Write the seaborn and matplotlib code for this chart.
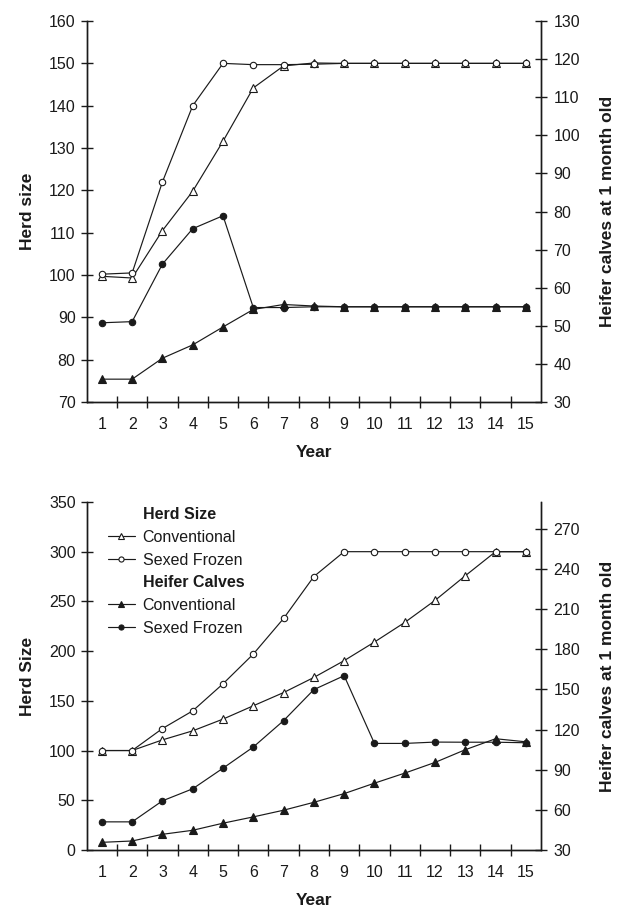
import matplotlib
matplotlib.use("Agg")
import matplotlib.pyplot as plt
from matplotlib.lines import Line2D
import seaborn as sns

# ── Configuração geral ────────────────────────────────────────────────────────
sns.set_theme(style="white")
plt.rcParams["font.family"] = ["Liberation Sans", "DejaVu Sans"]
INK = "#1a1a1a"
FS = 11.5
FS_LAB = 12.5

years = list(range(1, 16))

# ── Dados: painel superior ────────────────────────────────────────────────────
top_herd_conv = [99.7, 99.3, 110.5, 119.8, 131.6, 144.2, 149.4, 150.1, 150, 150, 150, 150, 150, 150, 150]
top_herd_sexed = [100.2, 100.5, 122.0, 140.0, 150.0, 149.7, 149.7, 149.8, 150, 150, 150, 150, 150, 150, 150]
top_calf_conv = [36.0, 36.0, 41.5, 45.0, 49.7, 54.3, 55.6, 55.2, 55, 55, 55, 55, 55, 55, 55]
top_calf_sexed = [50.8, 51.1, 66.2, 75.5, 78.9, 54.8, 54.8, 55.0, 55, 55, 55, 55, 55, 55, 55]

# ── Dados: painel inferior ────────────────────────────────────────────────────
bot_herd_conv = [100, 100, 110.7, 119.8, 131.6, 145.0, 158.3, 173.5, 190.4, 209.1, 228.8, 251.0, 275.8, 300, 300]
bot_herd_sexed = [100, 100, 122.1, 139.9, 167.1, 197.0, 232.8, 275.0, 300, 300, 300, 300, 300, 300, 300]
bot_calf_conv = [35.7, 36.7, 41.7, 44.7, 50.0, 54.7, 59.7, 65.6, 72.1, 79.9, 87.4, 95.4, 104.9, 113.1, 110.8]
bot_calf_sexed = [51.0, 51.0, 66.7, 75.7, 91.1, 106.9, 126.6, 149.8, 160.2, 109.6, 109.6, 110.6, 110.5, 110.5, 110.1]

left_ticks_top = list(range(70, 161, 10))
right_ticks_top = list(range(30, 131, 10))
left_ticks_bot = list(range(0, 351, 50))
right_ticks_bot = list(range(30, 271, 30))

STYLE = {
    "herd_conv": dict(marker="^", markerfacecolor="white", markersize=5.2),
    "herd_sexed": dict(marker="o", markerfacecolor="white", markersize=4.6),
    "calf_conv": dict(marker="^", markerfacecolor=INK, markersize=5.2),
    "calf_sexed": dict(marker="o", markerfacecolor=INK, markersize=4.6),
}


def draw_series(ax, y, key):
    sns.lineplot(x=years, y=y, ax=ax, color=INK, linewidth=0.85,
                 markeredgecolor=INK, markeredgewidth=0.8, **STYLE[key])


def style_axes(ax, ax2, lticks, rticks, rlim, ylabel):
    ax.set_xlim(0.5, 15.5)
    ax.set_ylim(lticks[0], lticks[-1])
    ax2.set_ylim(*rlim)
    ax.set_xticks(years)
    ax.set_xticks([y + 0.5 for y in years[:-1]], minor=True)
    ax.tick_params(axis="x", which="major", length=0, pad=11, labelsize=FS, colors=INK)
    ax.tick_params(axis="x", which="minor", direction="inout", length=8, width=1, color=INK, bottom=True)
    ax.set_yticks(lticks)
    ax2.set_yticks(rticks)
    ax.tick_params(axis="y", direction="inout", length=8, width=1, pad=4, labelsize=FS, colors=INK, left=True)
    ax2.tick_params(axis="y", direction="inout", length=8, width=1, pad=5, labelsize=FS, colors=INK, right=True)
    for a in (ax, ax2):
        a.spines["top"].set_visible(False)
        for s in ("left", "right", "bottom"):
            a.spines[s].set_color(INK)
            a.spines[s].set_linewidth(1)
        a.grid(False)
    ax.set_xlabel("Year", fontsize=FS_LAB, fontweight="bold", color=INK, labelpad=9)
    ax.set_ylabel(ylabel, fontsize=FS_LAB, fontweight="bold", color=INK, labelpad=10)
    ax2.set_ylabel("Heifer calves at 1 month old", fontsize=FS_LAB, fontweight="bold",
                   color=INK, labelpad=14)


fig = plt.figure(figsize=(6.22, 9.11), dpi=100)

# --- Painel superior ---------------------------------------------------------
ax_t = fig.add_axes([0.1394, 0.5587, 0.7304, 0.4182])
ax_t2 = ax_t.twinx()
draw_series(ax_t, top_herd_conv, "herd_conv")
draw_series(ax_t, top_herd_sexed, "herd_sexed")
draw_series(ax_t2, top_calf_conv, "calf_conv")
draw_series(ax_t2, top_calf_sexed, "calf_sexed")
style_axes(ax_t, ax_t2, left_ticks_top, right_ticks_top, (30, 130), "Herd size")

# --- Painel inferior ---------------------------------------------------------
ax_b = fig.add_axes([0.1394, 0.0670, 0.7304, 0.3820])
ax_b2 = ax_b.twinx()
draw_series(ax_b, bot_herd_conv, "herd_conv")
draw_series(ax_b, bot_herd_sexed, "herd_sexed")
draw_series(ax_b2, bot_calf_conv, "calf_conv")
draw_series(ax_b2, bot_calf_sexed, "calf_sexed")
style_axes(ax_b, ax_b2, left_ticks_bot, right_ticks_bot, (30, 290), "Herd Size")

# Legenda com cabeçalhos em negrito
blank = Line2D([], [], linestyle="none", marker=None)
def h(key):
    st = dict(STYLE[key])
    st["markersize"] = st["markersize"] * 0.8
    return Line2D([], [], color=INK, linewidth=0.85,
                  markeredgecolor=INK, markeredgewidth=0.8, **st)
handles = [blank, h("herd_conv"), h("herd_sexed"), blank, h("calf_conv"), h("calf_sexed")]
labels = ["Herd Size", "Conventional", "Sexed Frozen", "Heifer Calves", "Conventional", "Sexed Frozen"]
leg = ax_b2.legend(handles, labels, loc="upper left", bbox_to_anchor=(0.046, 0.985),
                   frameon=False, borderpad=0, borderaxespad=0, fontsize=FS,
                   handlelength=1.7, handletextpad=0.5, labelspacing=0.48)
for t, lab in zip(leg.get_texts(), labels):
    t.set_color(INK)
    if lab in ("Herd Size", "Heifer Calves"):
        t.set_fontweight("bold")

plt.savefig("out.png", dpi=100)
plt.close()
